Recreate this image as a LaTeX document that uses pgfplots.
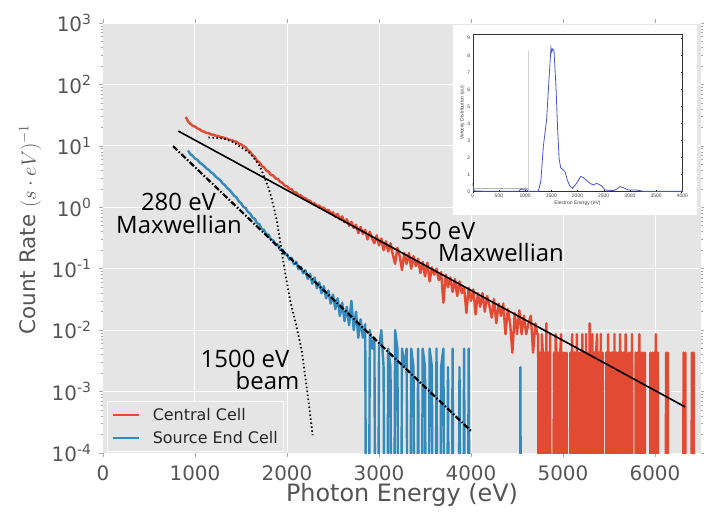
\documentclass[border=0pt]{standalone}
\usepackage{fontspec}
\setmainfont{DejaVu Sans}
\newfontfamily\annfont{Open Sans}
\newfontfamily\insetfont{Liberation Sans}
\usepackage{pgfplots}
\pgfplotsset{compat=1.18}
\usepackage{pgfplotstable}
\definecolor{ggbg}{HTML}{E5E5E5}
\definecolor{ggred}{HTML}{E24A33}
\definecolor{ggblue}{HTML}{348ABD}
\definecolor{ggtext}{HTML}{555555}
\definecolor{insetblue}{RGB}{70,85,200}

\pgfplotstableread{
x y
900 29.5
925 24.8
950 22.9
975 21.2
1000 20.6
1025 19.3
1050 18.6
1075 17.4
1100 17.0
1125 16.2
1150 16.1
1175 15.3
1200 15.2
1225 14.6
1250 14.6
1275 13.9
1300 13.8
1325 13.3
1350 13.1
1375 12.5
1400 12.4
1425 11.8
1450 11.7
1475 10.9
1500 10.6
1525 9.9
1550 9.5
1575 8.5
1600 8.0
1625 7.1
1650 6.6
1675 5.7
1700 5.4
1725 4.7
1750 4.5
1775 3.95
1800 3.8
1825 3.35
1850 3.3
1875 2.95
1900 2.9
1925 2.6
1950 2.5
1975 2.25
2000 2.2
2025 2.0
2050 1.97
2075 1.76
2100 1.74
2125 1.58
2150 1.56
2175 1.44
2200 1.41
2225 1.30
2250 1.28
2275 1.15
2300 1.16
2325 1.05
2350 1.07
2375 0.97
2400 0.99
2425 0.88
2450 0.91
2475 0.79
2500 0.83
2525 0.70
2550 0.78
2575 0.64
2600 0.71
2625 0.57
2650 0.64
2675 0.50
2700 0.58
2725 0.46
2750 0.52
2775 0.38
2800 0.48
2825 0.37
2850 0.43
2875 0.30
2900 0.40
2925 0.31
2950 0.26
2975 0.35
3000 0.24
3025 0.31
3050 0.20
3075 0.28
3100 0.19
3125 0.26
3150 0.17
3175 0.12
3200 0.22
3225 0.16
3250 0.095
3275 0.18
3300 0.12
3325 0.18
3350 0.10
3375 0.16
3400 0.11
3425 0.145
3450 0.085
3475 0.13
3500 0.075
3525 0.125
3550 0.062
3575 0.105
3600 0.080
3625 0.10
3650 0.065
3675 0.088
3700 0.028
3725 0.080
3750 0.050
3775 0.072
3800 0.042
3825 0.068
3850 0.036
3875 0.062
3900 0.040
3925 0.050
3950 0.019
3975 0.049
4000 0.030
4025 0.046
4050 0.018
4075 0.040
4100 0.024
4125 0.040
4150 0.020
4175 0.036
4200 0.025
4225 0.016
4250 0.032
4275 0.013
4300 0.027
4325 0.017
4350 0.027
4375 0.0086
4400 0.022
4425 0.013
4450 0.0043
4475 0.019
4500 0.0086
4525 0.021
4550 0.0086
4575 0.0172
4600 0.0086
4625 0.0129
4650 0.0172
4675 0.0043
4700 0.0129
4720 0.0086
4730 0.0086
4740 1e-12
4750 0.0043
4760 1e-12
4770 0.0086
4780 0.0043
4790 1e-12
4800 0.0043
4810 1e-12
4820 0.0129
4830 1e-12
4840 0.0043
4850 1e-12
4860 0.0086
4870 1e-12
4890 1e-12
4900 0.0043
4910 1e-12
4920 0.0086
4930 0.0043
4940 1e-12
4950 0.0043
4960 1e-12
4970 0.0043
4980 0.0086
4990 1e-12
5000 0.0043
5010 1e-12
5020 0.0043
5030 1e-12
5040 0.0043
5050 1e-12
5070 1e-12
5080 0.0043
5090 1e-12
5100 0.0086
5110 1e-12
5120 0.0043
5130 0.0043
5140 1e-12
5150 0.0086
5160 1e-12
5170 0.0043
5180 1e-12
5190 0.0043
5200 1e-12
5210 0.0086
5220 1e-12
5230 0.0043
5240 1e-12
5250 0.0086
5260 1e-12
5270 0.0043
5280 1e-12
5290 0.0129
5300 0.0043
5310 1e-12
5320 0.0086
5330 1e-12
5340 0.0043
5350 1e-12
5360 0.0043
5370 0.0086
5380 1e-12
5390 0.0043
5400 1e-12
5410 0.0086
5420 1e-12
5430 0.0043
5440 1e-12
5460 1e-12
5470 0.0043
5480 1e-12
5490 0.0086
5500 1e-12
5510 0.0043
5520 1e-12
5530 0.0043
5540 0.0043
5550 1e-12
5560 0.0086
5570 1e-12
5580 0.0043
5590 1e-12
5600 0.0043
5610 1e-12
5620 0.0086
5630 1e-12
5640 0.0043
5650 1e-12
5660 0.0043
5670 1e-12
5680 0.0086
5690 1e-12
5700 1e-12
5710 0.0043
5720 1e-12
5730 0.0043
5740 1e-12
5750 0.0086
5760 1e-12
5780 1e-12
5790 0.0043
5800 1e-12
5810 0.0043
5820 1e-12
5830 0.0086
5840 1e-12
5850 0.0043
5860 1e-12
5870 0.0043
5880 1e-12
5890 0.0043
5900 1e-12
5940 1e-12
5950 0.0043
5960 1e-12
5970 0.0043
5980 1e-12
5990 0.0043
6000 1e-12
6010 0.0086
6020 1e-12
6030 0.0043
6040 1e-12
6110 1e-12
6120 0.0043
6130 1e-12
6140 0.0043
6150 1e-12
6300 1e-12
6310 0.0043
6320 1e-12
6330 0.0043
6340 1e-12
6390 1e-12
6400 0.0043
6410 1e-12
6420 0.0043
6430 1e-12
6500 1e-12
}\redtab

\pgfplotstableread{
x y
925 8.4
950 7.3
975 6.9
1000 6.2
1025 5.95
1050 5.35
1075 5.05
1100 4.7
1125 4.3
1150 4.05
1175 3.7
1200 3.5
1225 3.15
1250 2.95
1275 2.75
1300 2.45
1325 2.3
1350 2.05
1375 1.92
1400 1.72
1425 1.55
1450 1.45
1475 1.26
1500 1.17
1525 1.02
1550 0.97
1575 0.84
1600 0.79
1625 0.68
1650 0.65
1675 0.55
1700 0.53
1725 0.44
1750 0.43
1775 0.36
1800 0.36
1825 0.30
1850 0.29
1875 0.245
1900 0.25
1925 0.20
1950 0.205
1975 0.17
2000 0.175
2025 0.14
2050 0.15
2075 0.118
2100 0.13
2125 0.098
2150 0.108
2175 0.084
2200 0.095
2225 0.068
2250 0.083
2275 0.057
2300 0.072
2325 0.048
2350 0.060
2375 0.040
2400 0.052
2425 0.033
2450 0.044
2475 0.027
2500 0.038
2525 0.022
2550 0.033
2575 0.017
2600 0.028
2625 0.014
2650 0.024
2675 0.012
2700 0.030
2725 0.0100
2750 0.020
2775 0.0075
2800 0.015
2825 0.0075
2850 0.0125
2875 1e-12
2900 0.0100
2925 0.0050
2950 0.0075
2975 1e-12
3000 0.0050
3025 0.0100
3050 0.0025
3075 1e-12
3100 0.0050
3125 0.0025
3150 1e-12
3175 0.0100
3200 0.0050
3225 1e-12
3250 0.0050
3275 0.0025
3300 0.0050
3325 1e-12
3350 0.0050
3375 0.0025
3400 1e-12
3425 0.0050
3450 1e-12
3475 0.0050
3500 0.0025
3525 1e-12
3550 0.0050
3575 0.0025
3600 1e-12
3625 0.0050
3650 1e-12
3675 0.0025
3700 0.0050
3725 1e-12
3750 0.0025
3775 1e-12
3800 0.0050
3825 1e-12
3850 1e-12
3875 0.0025
3900 1e-12
3925 0.0050
3950 1e-12
3975 0.0050
4000 1e-12
4525 1e-12
4537 0.0025
4550 1e-12
}\bluetab

\begin{document}
\begin{tikzpicture}
\path[use as bounding box] (-103bp,-60bp) rectangle (601bp,453bp);
\begin{axis}[
  at={(0bp,0bp)}, anchor=south west,
  width=598bp, height=430bp, scale only axis,
  xmin=0, xmax=6500, ymin=1e-4, ymax=1e3,
  ymode=log, log basis y=10,
  axis background/.style={fill=ggbg},
  axis line style={draw=none},
  grid=major, major grid style={white, line width=1bp},
  xtick={0,1000,2000,3000,4000,5000,6000},
  xticklabels={0,1000,2000,3000,4000,5000,6000},
  ytick={1e-4,1e-3,1e-2,1e-1,1,10,100,1000},
  yticklabels={10\textsuperscript{-4},10\textsuperscript{-3},10\textsuperscript{-2},10\textsuperscript{-1},10\textsuperscript{0},10\textsuperscript{1},10\textsuperscript{2},10\textsuperscript{3}},
  minor ytick={2e-4,3e-4,4e-4,5e-4,6e-4,7e-4,8e-4,9e-4,
    2e-3,3e-3,4e-3,5e-3,6e-3,7e-3,8e-3,9e-3,
    2e-2,3e-2,4e-2,5e-2,6e-2,7e-2,8e-2,9e-2,
    0.2,0.3,0.4,0.5,0.6,0.7,0.8,0.9,
    2,3,4,5,6,7,8,9,20,30,40,50,60,70,80,90,200,300,400,500,600,700,800,900},
  tick align=outside, major tick length=4bp, minor tick length=2bp,
  tick style={draw=ggtext!50, line width=0.6bp},
  tick label style={font=\fontsize{20}{24}\selectfont, text=ggtext},
  xticklabel style={yshift=-5bp},
  yticklabel style={xshift=-4bp},
  xlabel={Photon Energy (eV)},
  ylabel={Count Rate $(s\cdot eV)^{-1}$},
  xlabel style={font=\fontsize{24}{28}\selectfont, text=ggtext, at={(axis description cs:0.5,-0.098)}, anchor=center},
  ylabel style={font=\fontsize{21.5}{25}\selectfont, text=ggtext, at={(axis description cs:-0.122,0.52)}, anchor=center},
  legend style={at={(axis description cs:0.0067,0.0023)}, anchor=south west,
    fill=ggbg, draw=white!80!ggbg, line width=0.8bp,
    font=\fontsize{16}{19}\selectfont, text=black!85,
    inner xsep=4bp, inner ysep=5bp, row sep=5bp},
  legend cell align=left,
  legend image code/.code={\draw[#1, line width=2.4bp] (0bp,0bp) -- (26bp,0bp); \path (37bp,0bp);},
]
\addplot[ggred, line width=2.4bp, line join=round] table[x=x,y=y] {\redtab};
\addlegendentry{Central Cell}
\addplot[ggblue, line width=2.4bp, line join=round] table[x=x,y=y] {\bluetab};
\addlegendentry{Source End Cell}
\addplot[black, line width=1.6bp, forget plot] coordinates {(819,17.4) (6326,5.64e-4)};
\addplot[black, line width=2.2bp, dash pattern=on 6bp off 2bp on 1.5bp off 2bp, forget plot] coordinates {(761,9.9) (4011,2.2e-4)};
\addplot[black, line width=1.8bp, dash pattern=on 1.5bp off 2.5bp, forget plot] coordinates {
 (1145,13.7) (1308,13.2) (1420,11.5) (1489,9.7) (1598,7.6) (1660,5.8) (1707,4.6) (1761,2.9) (1797,2.1) (1830,1.45) (1860,0.95) (1888,0.62) (1924,0.29) (1975,0.095) (2033,0.031) (2100,0.012) (2160,0.0047) (2220,0.001) (2279,1.95e-4)};
\end{axis}

\tikzset{ann/.style={anchor=base, inner sep=0pt, font=\annfont\fontsize{24}{24}\selectfont, text=black}}
\node[ann] at (75.5bp,242bp) {280 eV};
\node[ann] at (76bp,219bp) {Maxwellian};
\node[ann] at (335bp,213bp) {550 eV};
\node[ann] at (398bp,191bp) {Maxwellian};
\node[ann] at (142bp,85bp) {1500 eV};
\node[ann] at (164.5bp,63bp) {beam};

\fill[white] (350bp,238bp) rectangle (594bp,428bp);
\begin{axis}[
  at={(369.7bp,261.3bp)}, anchor=south west,
  width=209.6bp, height=157.7bp, scale only axis,
  xmin=0, xmax=4000, ymin=0, ymax=9.25,
  xtick={0,500,1000,1500,2000,2500,3000,3500,4000},
  xticklabels={0,500,1000,1500,2000,2500,3000,3500,4000},
  ytick={0,1,2,3,4,5,6,7,8,9},
  yticklabels={0,1,2,3,4,5,6,7,8,9},
  tick align=inside, major tick length=1.5bp,
  tick style={black, line width=0.3bp},
  axis line style={black!80, line width=0.4bp},
  tick label style={font=\insetfont\fontsize{5}{6}\selectfont, text=black!75},
  xticklabel style={yshift=1bp},
  yticklabel style={xshift=1bp},
  xlabel={Electron Energy (eV)},
  ylabel={Velocity Distribution (au)},
  label style={font=\insetfont\fontsize{5}{6}\selectfont, text=black!75},
  xlabel style={yshift=4bp},
  ylabel style={yshift=-4bp},
  clip=true,
]
\addplot[gray!35, line width=0.7bp] coordinates {(1062,0) (1062,8.27)};
\addplot[gray!60, line width=0.7bp] coordinates {(0,0.2) (1062,0.2)};
\addplot[insetblue, line width=0.8bp] coordinates {
 (0,0.5) (25,0.05) (200,0.03) (880,0.03) (920,0.15) (980,0.1) (1020,0.12) (1060,0.03) (1250,0.02)
 (1300,0.6) (1348,2.66) (1411,4.23) (1456,6.6) (1494,8.46) (1510,8.2) (1526,8.37) (1551,8.27)
 (1589,6.2) (1621,3.64) (1650,1.9) (1680,1.4) (1720,1.3) (1761,1.18) (1805,0.69) (1850,0.35)
 (1907,0.2) (1983,0.5) (2060,0.89) (2100,0.85) (2142,0.75) (2238,0.49) (2301,0.39) (2365,0.49)
 (2460,0.35) (2524,0.1) (2683,0.06) (2750,0.15) (2810,0.3) (2873,0.24) (2969,0.1) (3128,0.1)
 (3255,0.02) (4000,0.02)};
\node[anchor=south west, inner sep=0.5pt, font=\insetfont\fontsize{4.5}{5}\selectfont, text=black!75] at (rel axis cs:0,1) {$\times 10^{7}$};
\end{axis}
\end{tikzpicture}
\end{document}
